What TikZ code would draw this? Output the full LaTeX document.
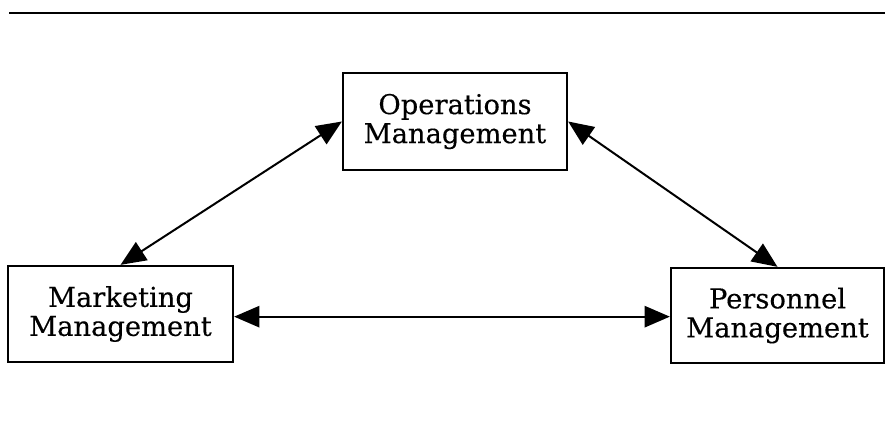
\documentclass[tikz,border=0pt]{standalone}
\usepackage{fontspec}
\setmainfont{DejaVu Serif}[FakeBold=0.3]
\usetikzlibrary{arrows.meta}
\begin{document}
\begin{tikzpicture}[x=0.75pt,y=-0.75pt,
  box/.style={draw,line width=1.7pt,minimum width=#1*0.75pt,inner sep=0pt,align=center,
    font=\fontsize{20.5}{21.75}\selectfont},
  box/.default=224,
  link/.style={line width=1.5pt,{Triangle[length=19pt,width=16pt]}-{Triangle[length=19pt,width=16pt]}}]
\useasboundingbox (0,0) rectangle (885,423);
\coordinate (tl) at (9,13);
\coordinate (tr) at (885,13);
\draw[line width=1.7pt] (tl) -- (tr);
\node[box=224,minimum height=72.75pt] (ops) at (455,121.5) {Operations\\Management};
\node[box=225,minimum height=72pt] (mkt) at (120.5,314) {Marketing\\Management};
\node[box=213,minimum height=71.25pt] (pers) at (777.5,315.5) {Personnel\\Management};
\draw[link] (mkt.north) -- (ops.west);
\draw[link] (ops.east) -- (pers.north);
\draw[link] ([yshift=-2pt]mkt.east) -- ([yshift=-2pt]mkt.east -| pers.west);
\end{tikzpicture}
\end{document}
